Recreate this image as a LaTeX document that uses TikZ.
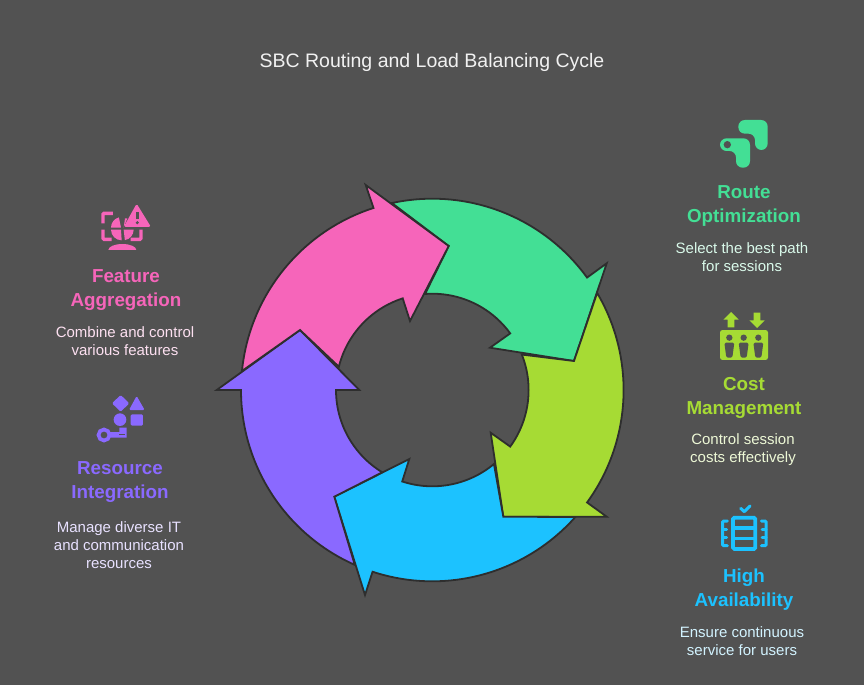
\documentclass[tikz,border=0pt]{standalone}
\usepackage{fontspec}
\setmainfont{Liberation Sans}
\usetikzlibrary{calc}
\definecolor{bgc}{HTML}{525252}
\definecolor{edgec}{HTML}{2E2E2E}
\definecolor{gr}{HTML}{43DF95}
\definecolor{li}{HTML}{A6DB34}
\definecolor{bl}{HTML}{1CC2FF}
\definecolor{pu}{HTML}{8A69FF}
\definecolor{pk}{HTML}{F665BA}
\definecolor{grt}{HTML}{D9F9EA}
\definecolor{lit}{HTML}{EDF8D6}
\definecolor{blt}{HTML}{D2F3FF}
\definecolor{put}{HTML}{E8E1FF}
\definecolor{pkt}{HTML}{FDE0F1}
\tikzset{
  seg/.style={draw=edgec,line width=1.8pt,line join=miter,miter limit=10},
  titletext/.style={font=\fontsize{19.5}{22}\selectfont,text=white!92!bgc,align=center},
  headtext/.style={font=\fontsize{18.8}{24}\selectfont\bfseries,align=center},
  desctext/.style={font=\fontsize{15}{18}\selectfont,align=center},
}
\newcommand{\OR}{191.3}
\newcommand{\IR}{96.3}
\begin{document}
\begin{tikzpicture}[x=1pt,y=1pt,yscale=-1]
\useasboundingbox (0,0) rectangle (864,685);
\fill[bgc] (0,0) rectangle (864,685);
\coordinate (c) at (432.3,390);
% cycle arrows
\fill[gr,seg] ($(c)+(-102.2:\OR)$) arc[start angle=-102.2,end angle=-36,radius=\OR pt]
  -- (606.7,263.3) -- (574,361) -- (490,347.7) -- ($(c)+(-36:\IR)$)
  arc[start angle=-36,end angle=-94.3,radius=\IR pt] -- (448.7,246) -- cycle;
\fill[li,seg] ($(c)+(-30.5:\OR)$) arc[start angle=-30.5,end angle=36,radius=\OR pt]
  -- (606.7,516.7) -- (503.3,516.7) -- (490.7,432.7) -- ($(c)+(36:\IR)$)
  arc[start angle=36,end angle=-21.6,radius=\IR pt] -- (574,361) -- cycle;
\fill[bl,seg] ($(c)+(41.6:\OR)$) arc[start angle=41.6,end angle=108.2,radius=\OR pt]
  -- (365,595) -- (334.3,496.7) -- (409.3,459) -- ($(c)+(108.2:\IR)$)
  arc[start angle=108.2,end angle=50.2,radius=\IR pt] -- (503.3,516.7) -- cycle;
\fill[pu,seg] ($(c)+(113.9:\OR)$) arc[start angle=113.9,end angle=180,radius=\OR pt]
  -- (216.7,390) -- (300,330) -- (359.3,390) -- ($(c)+(180:\IR)$)
  arc[start angle=180,end angle=121.3,radius=\IR pt] -- (334.3,496.7) -- cycle;
\fill[pk,seg] ($(c)+(-174.3:\OR)$) arc[start angle=-174.3,end angle=-107.9,radius=\OR pt]
  -- (365.7,185) -- (448.7,246) -- (410,321) -- ($(c)+(-107.9:\IR)$)
  arc[start angle=-107.9,end angle=-166,radius=\IR pt] -- (300,330) -- cycle;
% texts
\node[titletext] (title) at (432,62) {SBC Routing and Load Balancing Cycle};
\node[headtext,text=gr] (h1) at (744,206) {Route\\Optimization};
\node[desctext,text=grt] (d1) at (742,257.5) {Select the best path\\for sessions};
\node[headtext,text=li] (h2) at (744,398) {Cost\\Management};
\node[desctext,text=lit] (d2) at (743,449.5) {Control session\\costs effectively};
\node[headtext,text=bl] (h3) at (744,590) {High\\Availability};
\node[desctext,text=blt] (d3) at (742,641.5) {Ensure continuous\\service for users};
\node[headtext,text=pk] (h4) at (126,290) {Feature\\Aggregation};
\node[desctext,text=pkt] (d4) at (125,341.5) {Combine and control\\various features};
\node[headtext,text=pu] (h5) at (120,482) {Resource\\Integration};
\node[desctext,text=put] (d5) at (119,545.5) {Manage diverse IT\\and communication\\resources};
% icon route
\begin{scope}[shift={(700,105)},x=0.3333pt,y=0.3333pt]
\fill[gr,rounded corners=6.5pt] (115,45) -- (203,45) -- (203,135) -- (165,135) -- (165,86) -- (115,86) -- cycle;
\fill[gr,rounded corners=6.5pt] (60,100) -- (150,100) -- (150,188) -- (108,188) -- (108,138) -- (60,138) -- cycle;
\fill[bgc] (82,119) circle[radius=11];
\end{scope}
% icon cost
\begin{scope}[shift={(700,300)},x=0.3333pt,y=0.3333pt]
\fill[li] (93,36) -- (116,59) -- (103,59) -- (103,82) -- (83,82) -- (83,59) -- (70,59) -- cycle;
\fill[li] (171,84) -- (148,61) -- (161,61) -- (161,38) -- (181,38) -- (181,61) -- (194,61) -- cycle;
\fill[li,rounded corners=2.5pt] (60,90) rectangle (204,180);
\foreach \xx in {88,131,175}{
  \fill[bgc] (\xx,113) circle[radius=9.5];
  \fill[bgc,rounded corners=1.5pt] (\xx-15,128) -- (\xx+15,128) -- (\xx+9,173) -- (\xx-9,173) -- cycle;
}
\end{scope}
% icon availability
\begin{scope}[shift={(700,495)},x=0.3333pt,y=0.3333pt]
\draw[bl,line width=3pt,line cap=round,line join=round] (122,40) -- (133,50) -- (150,33);
\draw[bl,line width=3.8pt,rounded corners=1.5pt] (99,68) rectangle (166,162);
\draw[bl,line width=3.4pt] (99,99) -- (166,99) (99,131) -- (166,131);
\draw[bl,line width=3pt,line cap=round,rounded corners=1pt] (82,78) -- (68,78) -- (68,152) -- (82,152);
\draw[bl,line width=3pt,line cap=round] (68,102) -- (80,102) (68,127) -- (80,127);
\draw[bl,line width=3pt,line cap=round,rounded corners=1pt] (184,78) -- (198,78) -- (198,152) -- (184,152);
\draw[bl,line width=3pt,line cap=round] (198,102) -- (186,102) (198,127) -- (186,127);
\end{scope}
% icon aggregation
\begin{scope}[shift={(85,195)},x=0.3333pt,y=0.3333pt]
\draw[pk,line width=3.4pt,rounded corners=1pt] (84,55) -- (54,55) -- (54,85) (54,104) -- (54,133) -- (80,133) (137,133) -- (168,133) -- (168,104);
\fill[pk] (108,98) -- (78,98) arc[start angle=180,end angle=255,radius=32] -- cycle;
\fill[pk] (108,104) -- (78,104) arc[start angle=180,end angle=90,radius=32] -- cycle;
\fill[pk] (116,104) -- (146,104) arc[start angle=0,end angle=80,radius=32] -- cycle;
\fill[pk] (116,98) -- (120,70) -- (127,70) -- cycle;
\fill[pk] (70,165) arc[start angle=180,end angle=360,x radius=42,y radius=18] -- cycle;
\fill[pk,rounded corners=1.8pt] (155,26) -- (198,96) -- (116,96) -- cycle;
\fill[bgc] (153,50) rectangle (161,73);
\fill[bgc] (157,83) circle[radius=5];
\end{scope}
% icon resource
\begin{scope}[shift={(80,385)},x=0.3333pt,y=0.3333pt]
\fill[pu,rounded corners=1.3pt] (122,30) -- (148,55) -- (122,80) -- (96,55) -- cycle;
\fill[pu,rounded corners=1.3pt] (170,33) -- (194,75) -- (147,75) -- cycle;
\fill[pu] (120,104) circle[radius=19];
\fill[pu,rounded corners=1.3pt] (152,88) rectangle (189,122);
\draw[pu,line width=3.7pt] (72,150) circle[radius=16.5];
\fill[pu] (86,141) -- (118,141) -- (118,128) -- (140,128) -- (140,158) -- (86,158) -- cycle;
\fill[bgc] (118,147) rectangle (134,150);
\end{scope}
\end{tikzpicture}
\end{document}
